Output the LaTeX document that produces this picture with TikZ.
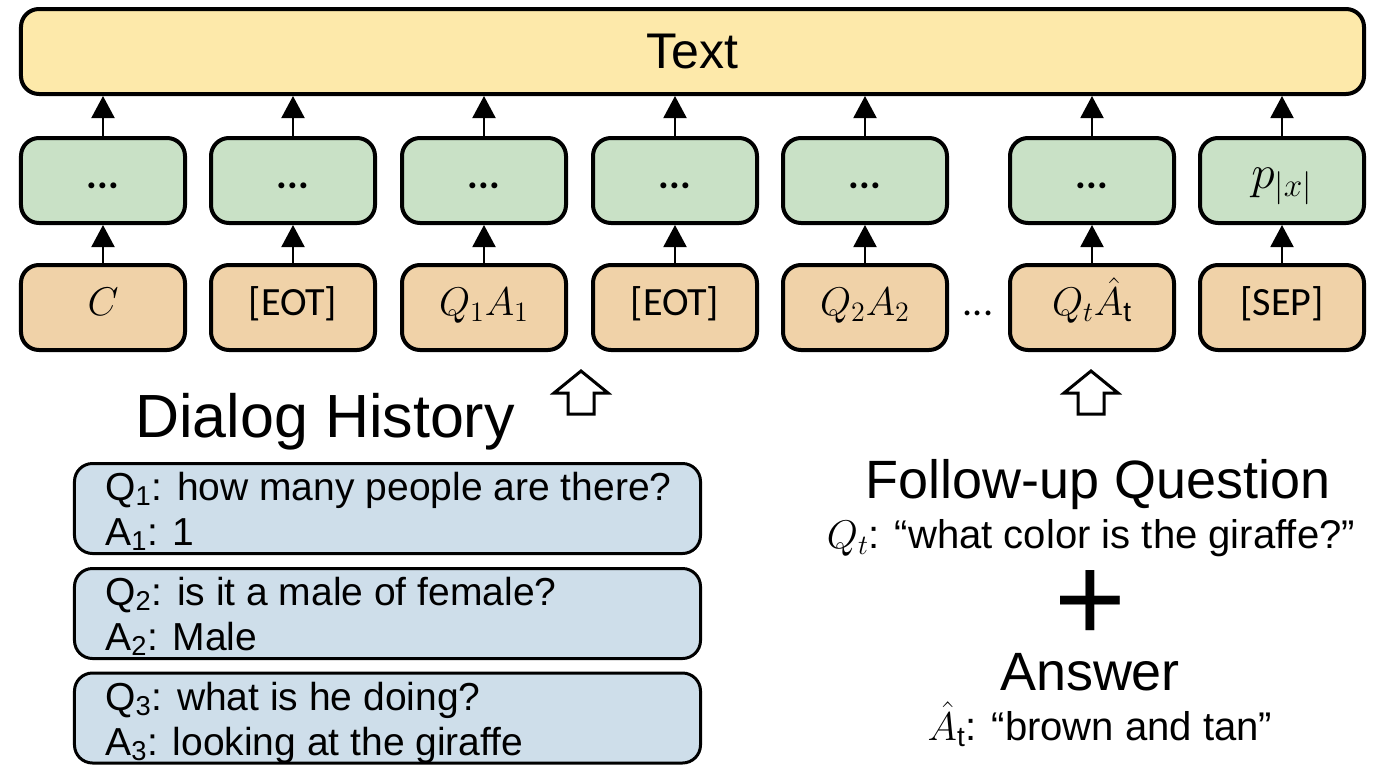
\RequirePackage{fix-cm}
\documentclass[tikz,border=0pt]{standalone}
\usepackage{fontspec}
\setmainfont{Liberation Sans}
\newfontfamily\tokfont{Carlito}
\usetikzlibrary{arrows.meta}

\definecolor{textyellow}{RGB}{253,233,170}
\definecolor{hidgreen}{RGB}{201,225,198}
\definecolor{toktan}{RGB}{240,210,168}
\definecolor{histblue}{RGB}{206,222,234}

\newcommand{\sz}[1]{\fontsize{#1}{1.15\dimexpr#1pt\relax}\selectfont}

\begin{document}
\begin{tikzpicture}[x=0.2mm,y=-0.2mm,>={Triangle[width=4.6mm,length=4.4mm]},
 framed/.style={draw=black,line width=0.8mm,rounded corners=3.6mm,inner sep=0pt},
 cell/.style={framed,minimum width=32.8mm,minimum height=17mm,
   text height=0.9em,text depth=0em,font=\tokfont\sz{22.8}},
 tokcell/.style={cell,fill=toktan},
 hidcell/.style={cell,fill=hidgreen},
 histcell/.style={framed,line width=0.6mm,fill=histblue,
   minimum width=125.2mm,minimum height=18mm},
 histline/.style={font=\sz{22.2},inner sep=0pt,anchor=base west},
 caption/.style={inner sep=0pt,anchor=base},
 link/.style={->,line width=0.4mm},
 hollow/.style={draw=black,line width=0.6mm,fill=white,line join=miter}]
  \useasboundingbox (0,0) rectangle (1378,764);

  % output layer
  \node[framed,fill=textyellow,minimum width=268.6mm,minimum height=17mm,font=\sz{28.5}] (txt) at (692.5,51.5) {Text};

  % input tokens and hidden states
  \foreach \i/\x/\tok/\hid in {1/103/{$C$}/{\textbf{...}},
                               2/293/{[EOT]}/{\textbf{...}},
                               3/484/{$Q_1A_1$}/{\textbf{...}},
                               4/675/{[EOT]}/{\textbf{...}},
                               5/865/{$Q_2A_2$}/{\textbf{...}},
                               6/1092/{$Q_t\hat{A}_{\mathrm{t}}$}/{\textbf{...}},
                               7/1282/{[SEP]}/{\sz{27}$p_{|x|}$}}{
    \node[tokcell] (tok\i) at (\x,307.5) {\tok};
    \node[hidcell] (hid\i) at (\x,180.5) {\hid};
    \draw[link] (tok\i) -- (hid\i);
    \draw[link] (hid\i) -- (hid\i |- txt.south);
  }
  \node[cell,draw=none,minimum width=0pt] (tokgap) at (978,307.5) {...};

  % hollow arrows feeding the sequence
  \foreach \x in {581,1091}
    \draw[hollow] (\x,371) -- (\x+27,393) -- (\x+13,393) -- (\x+13,414)
      -- (\x-13,414) -- (\x-13,393) -- (\x-27,393) -- cycle;

  % dialog history
  \node[inner sep=0pt,anchor=base west,font=\sz{34.7}] (dhist) at (135,437) {Dialog History};
  \foreach \j/\y in {1/508.5,2/613.5,3/718}
    \node[histcell] (hist\j) at (387.5,\y) {};
  \node[histline] (q1) at (105,500) {Q\textsubscript{1}: how many people are there?};
  \node[histline] (a1) at (105,545) {A\textsubscript{1}: 1};
  \node[histline] (q2) at (105,605) {Q\textsubscript{2}: is it a male of female?};
  \node[histline] (a2) at (105,650) {A\textsubscript{2}: Male};
  \node[histline] (q3) at (105,710) {Q\textsubscript{3}: what is he doing?};
  \node[histline] (a3) at (105,755) {A\textsubscript{3}: looking at the giraffe};

  % follow-up question and answer
  \node[caption,font=\sz{30.7}] (fuq) at (1098,498) {Follow-up Question};
  \node[caption,font=\sz{22.8}] (qtext) at (1091,548) {$Q_t$: “what color is the giraffe?”};
  \node[caption,font=\sz{70}] (plus) at (1090,641) {+};
  \node[caption,font=\sz{30.7}] (ans) at (1090,690) {Answer};
  \node[caption,font=\sz{22.8}] (atext) at (1100,740) {$\hat{A}_{\mathrm{t}}$: “brown and tan”};
\end{tikzpicture}
\end{document}
